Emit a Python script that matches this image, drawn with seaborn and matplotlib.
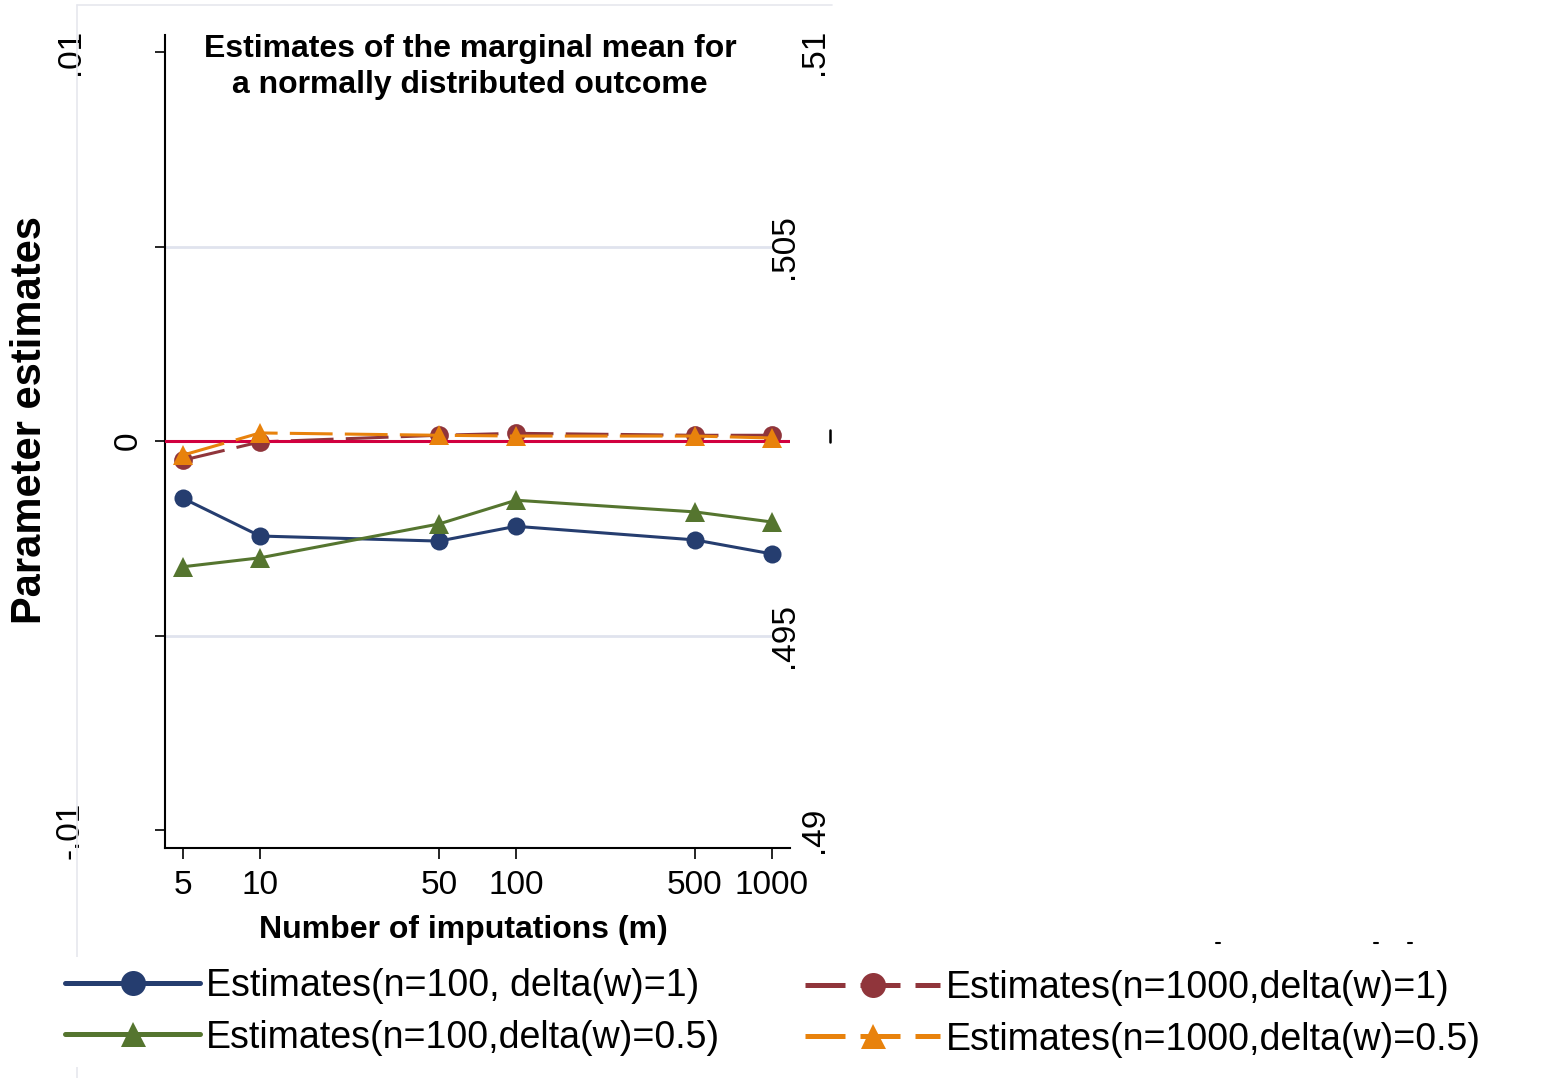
import numpy as np
import pandas as pd
import matplotlib
matplotlib.use("Agg")
import matplotlib.pyplot as plt
from matplotlib.lines import Line2D
from matplotlib.transforms import blended_transform_factory
import seaborn as sns

# ---------------- data ----------------
m_values = [5, 10, 50, 100, 500, 1000]
est_n100_d1 = [-0.00147, -0.00244, -0.00257, -0.00219, -0.00254, -0.00290]
est_n100_d05 = [-0.00323, -0.00300, -0.00213, -0.00152, -0.00182, -0.00208]
est_n1000_d1 = [-0.00049, -0.00002, 0.00015, 0.00020, 0.00015, 0.00015]
est_n1000_d05 = [-0.00036, 0.00021, 0.00015, 0.00013, 0.00013, 0.00008]

series_labels = ["Estimates(n=100, delta(w)=1)", "Estimates(n=100,delta(w)=0.5)",
                 "Estimates(n=1000,delta(w)=1)", "Estimates(n=1000,delta(w)=0.5)"]
x_tick_labels = ["5", "10", "50", "100", "500", "1000"]
left_tick_values = [-0.01, -0.005, 0.0, 0.005, 0.01]
left_labels = {0.01: ".01", 0.0: "0", -0.01: "-.01"}
right_labels = {0.01: ".51", 0.005: ".505", -0.005: ".495", -0.01: ".49"}

# ---------------- style ----------------
sns.set_theme(style="white")
plt.rcParams['font.family'] = ['Liberation Sans', 'DejaVu Sans']
plt.rcParams['text.color'] = 'black'
plt.rcParams['axes.labelcolor'] = 'black'
plt.rcParams['xtick.color'] = 'black'
plt.rcParams['ytick.color'] = 'black'

W, H = 1556, 1078
fig = plt.figure(figsize=(W / 100, H / 100), dpi=100)

def fx(px):
    return px / W

def fy(py):
    return 1 - py / H

ax_l, ax_r, ax_t, ax_b = 165, 790, 35, 848
ax = fig.add_axes([fx(ax_l), fy(ax_b), fx(ax_r - ax_l), (ax_b - ax_t) / H])
ax.set_facecolor("white")

navy = "#253d6f"
green = "#55752f"
maroon = "#90353b"
orange = "#e8820c"
crimson = "#d1003f"
grid_c = "#e0e3ee"

lw = 2.2
dash = (0, (14, 4))

df = pd.DataFrame({"m": m_values, "a": est_n100_d1, "b": est_n100_d05,
                   "c": est_n1000_d1, "d": est_n1000_d05})

# gridlines at +/- .005
for yv in (0.005, -0.005):
    ax.axhline(yv, xmin=0, xmax=(773 - ax_l) / (ax_r - ax_l), color=grid_c, lw=2, zorder=1)

sns.lineplot(data=df, x="m", y="a", ax=ax, color=navy, lw=lw, marker="o",
             markersize=13, markeredgewidth=0, zorder=3)
sns.lineplot(data=df, x="m", y="b", ax=ax, color=green, lw=lw, marker="^",
             markersize=15, markeredgewidth=0, zorder=3)
sns.lineplot(data=df, x="m", y="c", ax=ax, color=maroon, lw=lw, marker="o",
             markersize=13.5, markeredgewidth=0, linestyle=dash, zorder=3)
ax.axhline(0, color=crimson, lw=2.2, zorder=3.5)
sns.lineplot(data=df, x="m", y="d", ax=ax, color=orange, lw=lw, marker="^",
             markersize=15, markeredgewidth=0, linestyle=dash, zorder=4)

ax.set_xscale("log")
ax.set_xlim(4.254, 1176)
ax.set_ylim(-0.01046, 0.01044)
ax.set_xticks(m_values)
ax.set_xticklabels(x_tick_labels, fontsize=24)
ax.minorticks_off()
ax.set_yticks(left_tick_values)
ax.set_yticklabels([])

for s in ("top", "right"):
    ax.spines[s].set_visible(False)
for s in ("left", "bottom"):
    ax.spines[s].set_color("black")
    ax.spines[s].set_linewidth(1.5)

ax.tick_params(axis="x", direction="out", length=8, width=1.2, color="black", pad=8,
               bottom=True)
ax.tick_params(axis="y", direction="out", length=7, width=1.2, color="black", left=True)

# y tick labels placed by hand (rotated)
trans = blended_transform_factory(fig.transFigure, ax.transData)
left_x = {0.01: 70, 0.0: 128, -0.01: 70}
for yv, txt in left_labels.items():
    ax.text(fx(left_x[yv]), yv, txt, transform=trans, rotation=90, ha="center",
            va="center", fontsize=24, color="black", clip_on=False)
right_x = {0.01: 814, 0.005: 784, -0.005: 785, -0.01: 814}
for yv, txt in right_labels.items():
    ax.text(fx(right_x[yv]), yv, txt, transform=trans, rotation=90, ha="center",
            va="center", fontsize=24, color="black", clip_on=False)
fig.add_artist(Line2D([fx(830), fx(830)], [fy(430), fy(442)], color="black", lw=1.8,
                      transform=fig.transFigure))

# labels
ax.set_xlabel("Number of imputations (m)", fontsize=23, fontweight="bold")
ax.xaxis.set_label_coords((463 - ax_l) / (ax_r - ax_l), (ax_b - 930) / (ax_b - ax_t))
ax.xaxis.label.set_va("center")
ax.set_ylabel("Parameter estimates", fontsize=30, fontweight="bold")
ax.yaxis.set_label_coords((30 - ax_l) / (ax_r - ax_l), (ax_b - 420) / (ax_b - ax_t))
ax.yaxis.label.set_va("center")

ax.text((470 - ax_l) / (ax_r - ax_l), (ax_b - 67) / (ax_b - ax_t),
        "Estimates of the marginal mean for\na normally distributed outcome",
        transform=ax.transAxes, ha="center", va="center", fontsize=23,
        fontweight="bold", linespacing=1.3)

# faint outer graph-region border
fig.add_artist(Line2D([fx(77), fx(77)], [fy(5), fy(1078)], color="#e6e7ee", lw=1.2,
                      transform=fig.transFigure, zorder=1))
fig.add_artist(Line2D([fx(77), fx(832)], [fy(5), fy(5)], color="#e6e7ee", lw=1.2,
                      transform=fig.transFigure, zorder=1))
for xx in (1218, 1376, 1410):
    fig.add_artist(Line2D([fx(xx - 2), fx(xx + 2)], [fy(943), fy(943)], color="black",
                          lw=1.5, transform=fig.transFigure))

# legends
def handle(color, marker, ls):
    return Line2D([], [], color=color, lw=3.6, marker=marker, markersize=18,
                  markeredgewidth=0, linestyle=ls)

h1 = [handle(navy, "o", "-"), handle(green, "^", "-")]
h2 = [handle(maroon, "o", (0, (8, 3))), handle(orange, "^", (0, (8, 3)))]
leg_kw = dict(fontsize=27, frameon=True, facecolor="white", edgecolor="none",
              framealpha=1, handlelength=3.6, handletextpad=0.15, labelspacing=0.4,
              borderpad=0.3, borderaxespad=0, loc="center left")
fs_px = 27 * 100 / 72
leg1 = fig.legend(h1, series_labels[:2], bbox_to_anchor=(fx(65 - 0.3 * fs_px), fy(1012)),
                  bbox_transform=fig.transFigure, **leg_kw)
leg2 = fig.legend(h2, series_labels[2:], bbox_to_anchor=(fx(805 - 0.3 * fs_px), fy(1014)),
                  bbox_transform=fig.transFigure, **leg_kw)

fig.savefig("out.png", dpi=100, facecolor="white")
